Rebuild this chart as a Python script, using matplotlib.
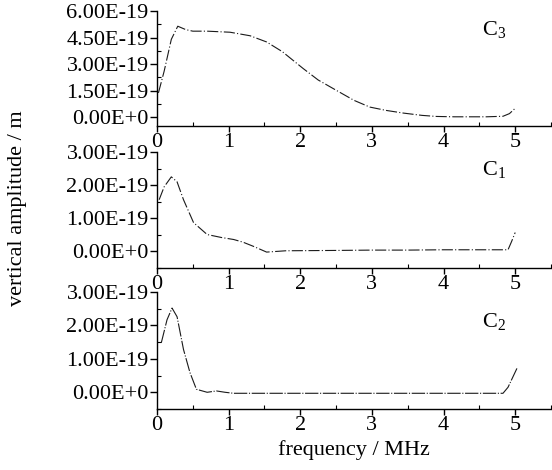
import matplotlib
matplotlib.use("Agg")
import matplotlib.pyplot as plt
from matplotlib.ticker import MultipleLocator

plt.rcParams['font.family'] = ['Liberation Serif', 'DejaVu Serif']
plt.rcParams['mathtext.fontset'] = 'custom'
plt.rcParams['mathtext.rm'] = 'Liberation Serif'
plt.rcParams['mathtext.it'] = 'Liberation Serif'

# ---- data (frequency in MHz, amplitude in 1e-19 m) ----
c3_freq = [0.02, 0.10, 0.20, 0.29, 0.40, 0.50, 0.70, 1.02, 1.30, 1.53, 1.75, 2.04, 2.25, 2.51, 2.75, 2.97, 3.20, 3.44, 3.70, 3.90, 4.15, 4.37, 4.60, 4.83, 4.92, 5.00]
c3_amp = [1.37, 2.6, 4.4, 5.14, 4.95, 4.86, 4.86, 4.80, 4.60, 4.25, 3.70, 2.75, 2.10, 1.50, 0.95, 0.57, 0.38, 0.23, 0.10, 0.04, 0.02, 0.02, 0.02, 0.05, 0.20, 0.50]

c1_freq = [0.03, 0.10, 0.20, 0.28, 0.37, 0.51, 0.70, 0.90, 1.07, 1.20, 1.35, 1.53, 1.80, 2.50, 3.00, 3.50, 4.00, 4.50, 4.90, 4.95, 5.00]
c1_amp = [1.56, 1.95, 2.25, 2.10, 1.56, 0.87, 0.51, 0.42, 0.36, 0.28, 0.15, -0.02, 0.02, 0.03, 0.04, 0.04, 0.05, 0.05, 0.05, 0.30, 0.57]

c2_freq = [0.06, 0.14, 0.21, 0.28, 0.37, 0.46, 0.55, 0.70, 0.83, 0.95, 1.07, 2.00, 3.00, 4.00, 4.83, 4.90, 5.03]
c2_amp = [1.48, 2.17, 2.52, 2.26, 1.28, 0.59, 0.09, 0.00, 0.04, 0.00, -0.03, -0.03, -0.03, -0.03, -0.03, 0.15, 0.74]

panel_labels = [r'C$_3$', r'C$_1$', r'C$_2$']
y_ticks = [[0.0, 1.5, 3.0, 4.5, 6.0], [0.0, 1.0, 2.0, 3.0], [0.0, 1.0, 2.0, 3.0]]
y_ticklabels = [['0.00E+0', '1.50E-19', '3.00E-19', '4.50E-19', '6.00E-19'],
                ['0.00E+0', '1.00E-19', '2.00E-19', '3.00E-19'],
                ['0.00E+0', '1.00E-19', '2.00E-19', '3.00E-19']]
x_ticks = [0, 1, 2, 3, 4, 5]
x_label = 'frequency / MHz'
y_label = 'vertical amplitude / m'

fig = plt.figure(figsize=(5.52, 4.70), dpi=100)
W, H = 552, 470
left = 157 / W
right = 551 / W
panels = [
    (126, 11, -0.5, 6.0, c3_freq, c3_amp, 0.75, 0.835),
    (268, 152, -0.5, 3.0, c1_freq, c1_amp, 0.5, 0.845),
    (409, 292, -0.5, 3.0, c2_freq, c2_amp, 0.5, 0.744),
]
fs = 16
line_color = '#1a1a1a'
for i, (ybot, ytop, ymin, ymax, xf, ya, minor, ly) in enumerate(panels):
    ax = fig.add_axes([left, 1 - ybot / H, right - left, (ybot - ytop) / H])
    ls = (0, (10, 2, 1, 2)) if i < 2 else (0, (12, 1.5, 1, 1.5))
    ax.plot(xf, ya, color=line_color, lw=0.8, linestyle=ls)
    ax.set_xlim(0, 5.5)
    ax.set_ylim(ymin, ymax)
    for s in ['top', 'right']:
        ax.spines[s].set_visible(False)
    ax.spines['left'].set_linewidth(1.0)
    ax.spines['bottom'].set_linewidth(1.0)
    ax.set_yticks(y_ticks[i])
    ax.set_yticklabels(y_ticklabels[i], fontsize=fs)
    ax.yaxis.set_minor_locator(MultipleLocator(minor))
    ax.set_xticks(x_ticks)
    ax.set_xticklabels([str(v) for v in x_ticks], fontsize=fs)
    ax.xaxis.set_minor_locator(MultipleLocator(0.5))
    ax.tick_params(axis='y', which='major', direction='out', length=5, width=1, pad=1)
    ax.tick_params(axis='y', which='minor', direction='in', length=3, width=0.8)
    ax.tick_params(axis='x', which='major', direction='out', length=4, width=1, pad=1)
    ax.tick_params(axis='x', which='minor', direction='in', length=3, width=0.8)
    ax.patch.set_alpha(0)
    ax.text(0.855, ly, panel_labels[i], transform=ax.transAxes, fontsize=fs,
            ha='center', va='center')
    if i == 2:
        ax.set_xlabel(x_label, fontsize=fs, labelpad=4)

fig.text(18 / W, 1 - 208 / H, y_label, rotation=90, fontsize=fs, ha='center', va='center')

fig.savefig('out.png', dpi=100)
